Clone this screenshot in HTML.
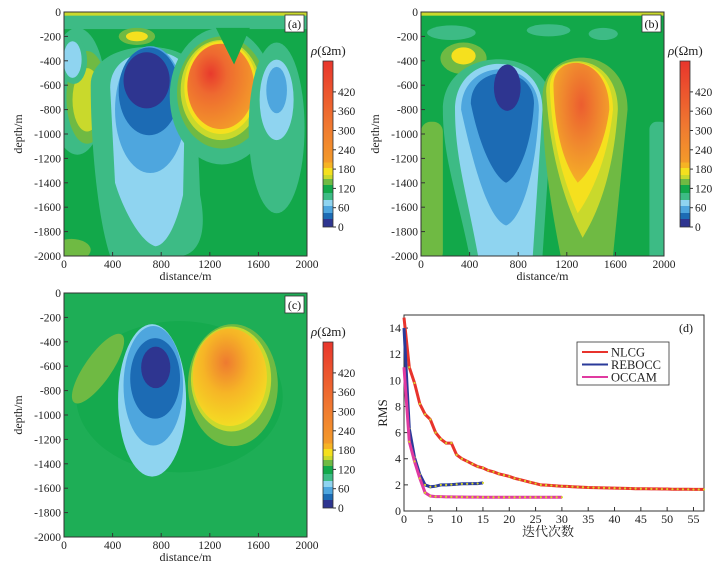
<!DOCTYPE html>
<html><head><meta charset="utf-8"><style>
body{margin:0;background:#fff;}
svg{display:block;font-family:"Liberation Serif","Noto Serif CJK SC",serif;}
</style></head><body>
<svg id="root" width="727" height="568" viewBox="0 0 727 568" xmlns="http://www.w3.org/2000/svg">
<defs>
<clipPath id="clipField"><rect width="2000" height="2000"/></clipPath>
<radialGradient id="gA" cx="0.35" cy="0.35" r="0.7"><stop offset="0" stop-color="#e83a2c"/><stop offset="0.35" stop-color="#ee6a30"/><stop offset="1" stop-color="#f39a2a"/></radialGradient>
<radialGradient id="gB" cx="0.5" cy="0.35" r="0.7"><stop offset="0" stop-color="#ec5d2f"/><stop offset="0.5" stop-color="#f08a2e"/><stop offset="1" stop-color="#f6b525"/></radialGradient>
<radialGradient id="gC" cx="0.45" cy="0.35" r="0.7"><stop offset="0" stop-color="#ee7a30"/><stop offset="0.45" stop-color="#f6b526"/><stop offset="1" stop-color="#f4e223"/></radialGradient>
<linearGradient id="cbar" x1="0" y1="1" x2="0" y2="0">
<stop offset="0" stop-color="#2e3590"/><stop offset="0.048" stop-color="#2e3590"/>
<stop offset="0.048" stop-color="#1c6bb4"/><stop offset="0.084" stop-color="#1c6bb4"/>
<stop offset="0.084" stop-color="#4ea6de"/><stop offset="0.127" stop-color="#4ea6de"/>
<stop offset="0.127" stop-color="#8fd4f0"/><stop offset="0.163" stop-color="#8fd4f0"/>
<stop offset="0.163" stop-color="#3dbb85"/><stop offset="0.205" stop-color="#3dbb85"/>
<stop offset="0.205" stop-color="#12a84a"/><stop offset="0.253" stop-color="#12a84a"/>
<stop offset="0.253" stop-color="#6fba43"/><stop offset="0.289" stop-color="#6fba43"/>
<stop offset="0.289" stop-color="#c9d92c"/><stop offset="0.313" stop-color="#c9d92c"/>
<stop offset="0.313" stop-color="#f5e01e"/><stop offset="0.355" stop-color="#f5e01e"/>
<stop offset="0.355" stop-color="#f6b324"/><stop offset="0.39" stop-color="#f6b324"/>
<stop offset="0.39" stop-color="#f39a2a"/><stop offset="0.6" stop-color="#f07a30"/><stop offset="1" stop-color="#e8352c"/>
</linearGradient>
</defs>

<!-- Panel a field -->
<g transform="translate(64,12) scale(0.1215,0.122)">
<g clip-path="url(#clipField)">
<rect width="2000" height="2000" fill="#12a84a"/>
<rect width="2000" height="40" fill="#c9d92c"/>
<rect y="30" width="2000" height="110" fill="#3dbb85"/>
<ellipse cx="600" cy="200" rx="150" ry="70" fill="#6fba43"/>
<ellipse cx="600" cy="200" rx="90" ry="40" fill="#f5e01e"/>
<ellipse cx="60" cy="1950" rx="160" ry="90" fill="#6fba43"/>
<ellipse cx="110" cy="650" rx="230" ry="520" fill="#3dbb85"/>
<ellipse cx="190" cy="700" rx="170" ry="380" fill="#6fba43"/>
<ellipse cx="190" cy="720" rx="120" ry="260" fill="#c9d92c"/>
<ellipse cx="80" cy="400" rx="110" ry="190" fill="#3dbb85"/>
<ellipse cx="70" cy="390" rx="75" ry="150" fill="#8fd4f0"/>
<path d="M220 600 C220 200 1080 200 1080 500 L1120 1500 C1200 1900 1050 2000 950 2000 L380 2000 C280 1700 220 1100 220 600Z" fill="#3dbb85"/>
<path d="M380 620 C380 250 1000 250 1000 500 L980 1500 C900 1850 800 1920 750 1920 C620 1880 480 1600 420 1400Z" fill="#8fd4f0"/>
<ellipse cx="710" cy="800" rx="290" ry="520" fill="#4ea6de"/>
<ellipse cx="700" cy="650" rx="250" ry="360" fill="#1c6bb4"/>
<ellipse cx="680" cy="560" rx="190" ry="230" fill="#2e3590"/>
<ellipse cx="1300" cy="690" rx="430" ry="560" fill="#3dbb85"/>
<ellipse cx="1300" cy="660" rx="370" ry="460" fill="#6fba43"/>
<ellipse cx="1290" cy="640" rx="330" ry="410" fill="#c9d92c"/>
<ellipse cx="1290" cy="620" rx="300" ry="380" fill="#f5e01e"/>
<ellipse cx="1290" cy="610" rx="275" ry="350" fill="url(#gA)"/>
<path d="M1250 130 L1530 130 L1400 430 Z" fill="#12a84a"/>
<ellipse cx="1750" cy="950" rx="230" ry="700" fill="#3dbb85"/>
<ellipse cx="1750" cy="720" rx="140" ry="330" fill="#8fd4f0"/>
<ellipse cx="1750" cy="640" rx="85" ry="190" fill="#4ea6de"/>
</g></g>

<!-- Panel b field -->
<g transform="translate(421,12) scale(0.1215,0.122)">
<g clip-path="url(#clipField)">
<rect width="2000" height="2000" fill="#12a84a"/>
<rect width="2000" height="30" fill="#c9d92c"/>
<ellipse cx="250" cy="170" rx="200" ry="60" fill="#3dbb85"/>
<ellipse cx="1050" cy="150" rx="180" ry="50" fill="#3dbb85"/>
<ellipse cx="1500" cy="180" rx="120" ry="50" fill="#3dbb85"/>
<rect x="0" y="900" width="180" height="1150" rx="80" fill="#6fba43"/>
<rect x="1880" y="900" width="150" height="1150" rx="60" fill="#3dbb85"/>
<ellipse cx="350" cy="380" rx="190" ry="130" fill="#6fba43"/>
<ellipse cx="350" cy="360" rx="100" ry="70" fill="#f5e01e"/>
<path d="M180 800 C180 250 1100 250 1080 800 L1000 2000 L400 2000 C300 1500 180 1200 180 800Z" fill="#3dbb85"/>
<path d="M280 800 C280 300 1000 300 1000 800 L920 2000 L470 2000 C380 1500 280 1200 280 800Z" fill="#8fd4f0"/>
<path d="M330 800 C330 360 970 360 970 800 C950 1300 830 1700 700 1750 C560 1700 440 1300 330 800Z" fill="#4ea6de"/>
<path d="M410 750 C410 420 930 420 930 750 C910 1100 800 1350 700 1400 C600 1350 480 1100 410 750Z" fill="#1c6bb4"/>
<ellipse cx="710" cy="620" rx="110" ry="190" fill="#2e3590"/>
<path d="M1000 700 C1000 250 1700 250 1700 800 L1580 2000 L1150 2000 C1050 1500 1000 1100 1000 700Z" fill="#6fba43"/>
<path d="M1030 650 C1030 300 1620 300 1620 800 C1580 1400 1420 1700 1330 1850 C1200 1600 1060 1200 1030 650Z" fill="#c9d92c"/>
<path d="M1060 620 C1060 320 1580 320 1580 800 C1540 1200 1400 1500 1290 1650 C1180 1400 1080 1100 1060 620Z" fill="#f5e01e"/>
<path d="M1090 600 C1090 330 1550 330 1550 800 C1510 1100 1400 1300 1290 1400 C1180 1250 1100 1000 1090 600Z" fill="url(#gB)"/>
</g></g>

<!-- Panel c field -->
<g transform="translate(64,293) scale(0.1215,0.122)">
<g clip-path="url(#clipField)">
<rect width="2000" height="2000" fill="#1eae56"/>
<ellipse cx="950" cy="850" rx="850" ry="620" fill="#15aa4e"/>
<ellipse cx="280" cy="620" rx="110" ry="340" transform="rotate(35 280 620)" fill="#6fba43"/>
<ellipse cx="725" cy="880" rx="280" ry="625" fill="#8fd4f0"/>
<ellipse cx="735" cy="760" rx="245" ry="490" fill="#4ea6de"/>
<ellipse cx="750" cy="700" rx="205" ry="330" fill="#1c6bb4"/>
<ellipse cx="755" cy="610" rx="120" ry="170" fill="#2e3590"/>
<ellipse cx="1390" cy="755" rx="370" ry="500" fill="#6fba43"/>
<ellipse cx="1375" cy="705" rx="330" ry="430" fill="#c9d92c"/>
<ellipse cx="1365" cy="690" rx="305" ry="400" fill="url(#gC)"/>
</g></g>

<g id="axes"></g>
<g id="rms"></g>
</svg>
<script>
// RMS data
const nlcgRMS=[14.8,11,9.8,8.2,7.4,7.0,6.0,5.5,5.2,5.2,4.3,4.0,3.8,3.6,3.4,3.3,3.1,3.0,2.85,2.75,2.65,2.5,2.4,2.3,2.2,2.1,2.0,1.98,1.95,1.92,1.9,1.88,1.86,1.84,1.82,1.8,1.79,1.78,1.77,1.76,1.75,1.74,1.73,1.72,1.71,1.7,1.7,1.69,1.69,1.68,1.68,1.67,1.67,1.66,1.66,1.65,1.65,1.65];
const reboccRMS=[14,6.3,4.1,2.8,2.0,1.85,1.9,2.0,2.0,2.02,2.05,2.08,2.08,2.1,2.1,2.15];
const occamRMS=[11,5.3,3.8,2.5,1.4,1.15,1.1,1.1,1.08,1.08,1.07,1.07,1.06,1.06,1.06,1.05,1.05,1.05,1.05,1.05,1.05,1.05,1.05,1.05,1.05,1.05,1.05,1.05,1.05,1.05,1.05];
const rmsXTicks=[0,5,10,15,20,25,30,35,40,45,50,55];
const rmsYTicks=[0,2,4,6,8,10,12,14];
const depthTicks=[0,-200,-400,-600,-800,-1000,-1200,-1400,-1600,-1800,-2000];
const distTicks=[0,400,800,1200,1600,2000];
const cbarTicks=[0,60,120,180,240,300,360,420];

const NS='http://www.w3.org/2000/svg';
function el(tag,attrs,parent,text){const e=document.createElementNS(NS,tag);for(const k in attrs)e.setAttribute(k,attrs[k]);if(text!==undefined)e.textContent=text;parent.appendChild(e);return e;}
const axes=document.getElementById('axes');
const panels=[{x:64,y:12,l:'(a)'},{x:421,y:12,l:'(b)'},{x:64,y:293,l:'(c)'}];
panels.forEach((p,i)=>{
 const g=el('g',{},axes);
 
 
 const W=243,H=244;
 const sx=v=>p.x+v/2000*W, sy=v=>p.y+(-v)/2000*H;
 el('rect',{x:p.x,y:p.y,width:W,height:H,fill:'none',stroke:'#333','stroke-width':1},g);
 depthTicks.forEach(t=>{const y=sy(t);
  el('line',{x1:p.x,x2:p.x+4,y1:y,y2:y,stroke:'#333'},g);
  const tx=el('text',{x:p.x-3,y:y+4,'text-anchor':'end','font-size':11.5,fill:'#222'},g,t===0?'0':String(t));
  
  });
 distTicks.forEach(t=>{const x=sx(t);
  el('line',{x1:x,x2:x,y1:p.y+H,y2:p.y+H-4,stroke:'#333'},g);
  const tx=el('text',{x:x,y:p.y+H+12,'text-anchor':'middle','font-size':11.5,fill:'#222'},g,String(t));
  
  });
 const yl=el('text',{x:0,y:0,transform:`translate(${p.x-42},${p.y+H/2}) rotate(-90)`,'text-anchor':'middle','font-size':12,fill:'#222'},g,'depth/m');
 
 
 const xl=el('text',{x:p.x+W/2,y:p.y+H+24,'text-anchor':'middle','font-size':12,fill:'#222'},g,'distance/m');
 
 
 el('rect',{x:p.x+W-22,y:p.y+3,width:19,height:17,fill:'#fff',stroke:'#333','stroke-width':0.8},g);
 const lb=el('text',{x:p.x+W-12.5,y:p.y+16,'text-anchor':'middle','font-size':12,fill:'#111'},g,p.l);
 
 
 const cx=p.x+259, top=p.y+49, bot=p.y+215;
 const cb=el('rect',{x:cx,y:top,width:10,height:bot-top,fill:'url(#cbar)',stroke:'#333','stroke-width':0.8},g);
 
 
 const cy=v=>bot-v/516*(bot-top);
 cbarTicks.forEach(t=>{const y=cy(t);
  el('line',{x1:cx+10,x2:cx+13,y1:y,y2:y,stroke:'#333'},g);
  const tx=el('text',{x:cx+15,y:y+4,'font-size':11.5,fill:'#222'},g,String(t));
  
  });
 const ct=el('text',{x:cx-12,y:top-6,'font-size':13,fill:'#222'},g);
 
 
 el('tspan',{'font-style':'italic'},ct,'ρ');
 el('tspan',{},ct,'(Ωm)');
});

// RMS panel
const rg=document.getElementById('rms');


const X0=404,X1=704,Y0=511,Y1=315;
const rx=v=>X0+v/57*(X1-X0), ry=v=>Y0-v/15*(Y0-Y1);
el('rect',{x:X0,y:Y1,width:X1-X0,height:Y0-Y1,fill:'#fff',stroke:'#333','stroke-width':1},rg);
rmsXTicks.forEach(t=>{const x=rx(t);
 el('line',{x1:x,x2:x,y1:Y0,y2:Y0-4,stroke:'#333'},rg);
 const tx=el('text',{x:x,y:Y0+12,'text-anchor':'middle','font-size':12,fill:'#222'},rg,String(t));
 
 });
rmsYTicks.forEach(t=>{const y=ry(t);
 el('line',{x1:X0,x2:X0+4,y1:y,y2:y,stroke:'#333'},rg);
 const tx=el('text',{x:X0-3,y:y+4,'text-anchor':'end','font-size':12,fill:'#222'},rg,String(t));
 
 });
const yt=el('text',{x:0,y:0,transform:`translate(${X0-17},${(Y0+Y1)/2}) rotate(-90)`,'text-anchor':'middle','font-size':13,fill:'#222'},rg,'RMS');


const xt=el('text',{x:(X0+X1)/2-6,y:Y0+25,'text-anchor':'middle','font-size':13,fill:'#222'},rg,'迭代次数');


const pl=el('text',{x:686,y:332,'text-anchor':'middle','font-size':12,fill:'#111'},rg,'(d)');


const series=[['nlcg',nlcgRMS,'#e8332c'],['rebocc',reboccRMS,'#2a3a9a'],['occam',occamRMS,'#e03aa0']];
series.forEach(([n,d,c])=>{
 const pts=d.map((v,i)=>rx(i).toFixed(1)+','+ry(v).toFixed(1)).join(' ');
 const line=el('polyline',{points:pts,fill:'none',stroke:c,'stroke-width':3},rg);
 
 
 d.forEach((v,i)=>{if(i===0)return;
  const m=el('circle',{cx:rx(i),cy:ry(v),r:1.1,fill:'#d6d62a'},rg);
  
  });
});
const lg=el('g',{},rg);


el('rect',{x:577,y:342,width:92,height:43,fill:'#fff',stroke:'#333','stroke-width':0.8},lg);
[['NLCG','#e8332c'],['REBOCC','#2a3a9a'],['OCCAM','#e03aa0']].forEach(([t,c],i)=>{
 const y=352+i*12.5;
 el('line',{x1:582,x2:608,y1:y,y2:y,stroke:c,'stroke-width':2},lg);
 const tx=el('text',{x:611,y:y+4.5,'font-size':12.5,fill:'#222'},lg,t);
 
 
});
</script>
</body></html>
